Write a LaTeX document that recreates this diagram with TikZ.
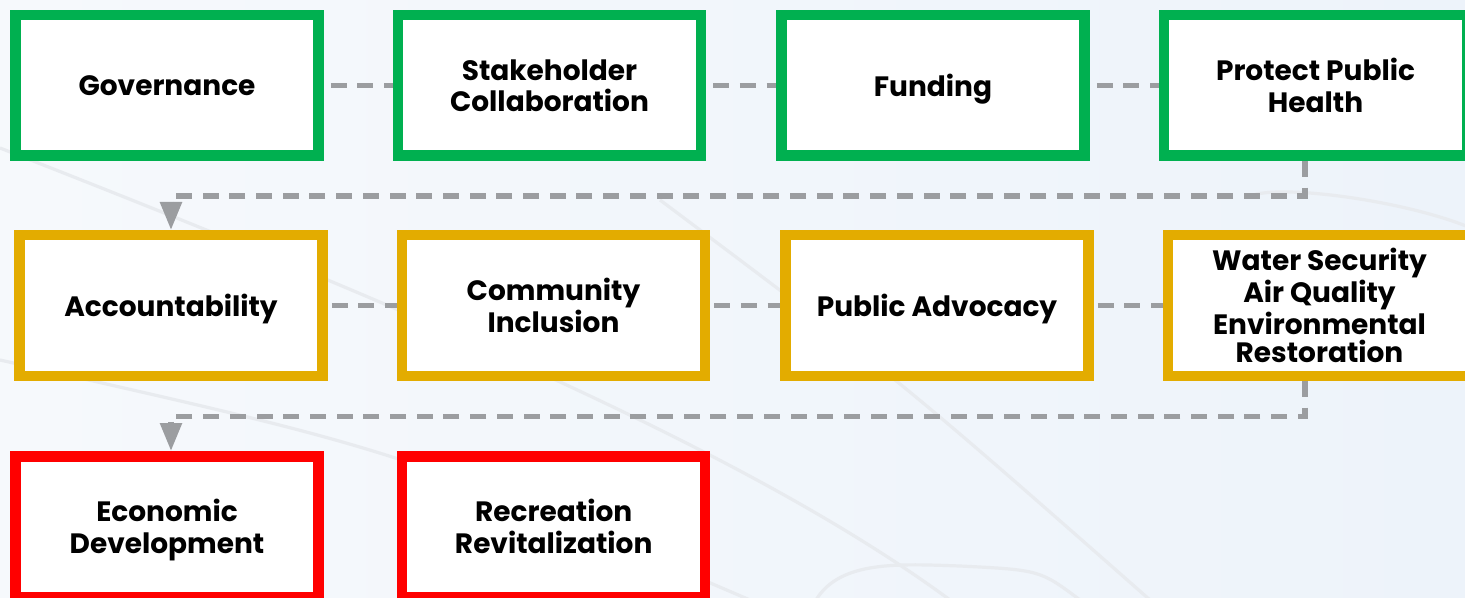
\documentclass[tikz,border=0pt]{standalone}
\usepackage{fontspec}
\setmainfont{Poppins}
\usepackage{xcolor}
\usepackage{tikz}
\usetikzlibrary{arrows.meta, positioning}
\definecolor{govgreen}{HTML}{00B050}
\definecolor{midgold}{HTML}{E3AC00}
\definecolor{outred}{HTML}{FF0000}
\definecolor{linkgray}{HTML}{9B9DA0}
\definecolor{bgtop}{HTML}{F6F9FC}
\definecolor{bgbottom}{HTML}{EDF3FA}
\definecolor{swoosh}{HTML}{E8EBEF}
\tikzset{
	box/.style={draw, line width=5.25pt, fill=white, minimum width=151.5pt,
		minimum height=70.25pt, align=center, inner sep=2pt, text depth=0pt,
		font=\bfseries\fontsize{14}{15.8}\selectfont},
	tierone/.style={box, draw=govgreen},
	tiertwo/.style={box, draw=midgold},
	tierthree/.style={box, draw=outred},
	link/.style={draw=linkgray, line width=2.75pt, dash pattern=on 8pt off 5.35pt},
	flow/.style={link, -{Triangle[length=14pt, width=10.5pt]}},
}

\begin{document}
\begin{tikzpicture}
		% backdrop with faint swooshes
		\shade[left color=bgtop, right color=bgbottom] (0,0) rectangle (732.5pt,-299pt);
		\useasboundingbox (0,0) rectangle (732.5pt,-299pt);
		\begin{scope}[swoosh, line width=1.6pt]
			\draw (0pt,-74pt) .. controls (220pt,-160pt) and (380pt,-230pt) .. (475pt,-300pt);
			\draw (0pt,-180pt) .. controls (200pt,-225pt) .. (375pt,-300pt);
			\draw (330pt,-100pt) .. controls (450pt,-190pt) .. (575pt,-300pt);
			\draw (408pt,-300pt) .. controls (420pt,-280pt) and (450pt,-282pt) .. (480pt,-283pt)
				.. controls (520pt,-285pt) .. (540pt,-300pt);
			\draw (625pt,-98pt) .. controls (640pt,-92pt) and (700pt,-100pt) .. (733pt,-113pt);
		\end{scope}

		% first tier
		\node[tierone] (gov) at (83.5pt,-42.75pt) {Governance};
		\node[tierone, right=34.5pt of gov] (stake) {Stakeholder\\Collaboration};
		\node[tierone, right=35pt of stake] (fund) {Funding};
		\node[tierone, right=34.5pt of fund] (health) {Protect Public\\Health};

		% second tier
		\node[tiertwo, below=34.5pt of gov, xshift=2pt] (acc) {Accountability};
		\node[tiertwo, right=34.5pt of acc] (comm) {Community\\Inclusion};
		\node[tiertwo, right=35pt of comm] (adv) {Public Advocacy};
		\node[tiertwo, right=34.5pt of adv, font=\bfseries\fontsize{14}{14.2}\selectfont] (water)
		{Water Security\\Air Quality\\Environmental\\Restoration};

		% third tier
		\node[tierthree, below=35pt of acc, xshift=-2pt] (econ) {Economic\\Development};
		\node[tierthree, right=36.6pt of econ] (recr) {Recreation\\Revitalization};

		\draw[link, shorten <=3.5pt] (gov) -- (stake);
		\draw[link, shorten <=3.5pt] (stake) -- (fund);
		\draw[link, shorten <=3.5pt] (fund) -- (health);
		\draw[link, shorten <=2pt] (acc) -- (comm);
		\draw[link, shorten <=2pt] (comm) -- (adv);
		\draw[link, shorten <=2pt] (adv) -- (water);

		\draw[flow] ([xshift=-5.25pt]health.south) -- ++(0,-17.5pt) -| (acc.north);
		\draw[flow] ([xshift=-7.25pt]water.south) -- ++(0,-17.75pt) -| (econ.north -| acc.south);
	\end{tikzpicture}
\end{document}
